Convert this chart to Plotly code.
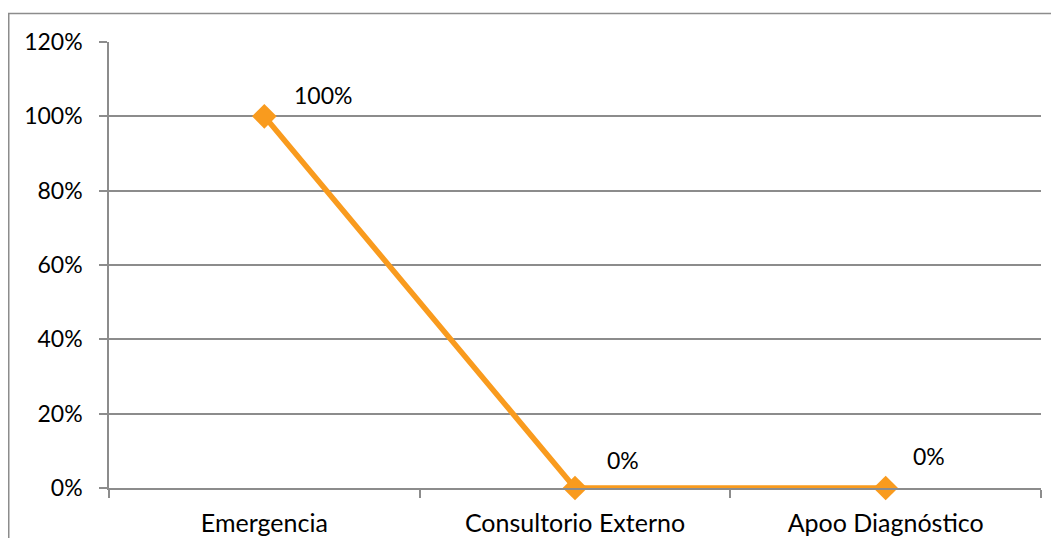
import plotly.graph_objects as go

categories = ["Emergencia", "Consultorio Externo", "Apoo Diagnóstico"]
values = [1.0, 0.0, 0.0]
labels = ["100%", "0%", "0%"]
ytick_vals = [0, 0.2, 0.4, 0.6, 0.8, 1.0, 1.2]
ytick_text = ["0%", "20%", "40%", "60%", "80%", "100%", "120%"]

# page is offset by the default 8px body margin
OFF = 8
W, H = 1059 - 2 * OFF, 546 - 2 * OFF
L, T = 109 - OFF, 42 - OFF
R = W - (1041 - OFF)
B = H - (488 - OFF)
pw, ph = W - L - R, H - T - B

FONT = "Lato, sans-serif"
FS = 25
FSN = 23
ORANGE = "#F99B1E"
GRID = "#8c8c8c"

fig = go.Figure()
fig.add_trace(go.Scatter(
    x=categories, y=values, mode="lines+markers",
    line=dict(color=ORANGE, width=5.5),
    marker=dict(symbol="diamond", size=19, color=ORANGE),
    showlegend=False, hoverinfo="skip", cliponaxis=False,
))

label_shift = [(59, 21), (48, 28), (43, 32)]
for c, v, t, (dx, dy) in zip(categories, values, labels, label_shift):
    fig.add_annotation(x=c, y=v, text=t, showarrow=False, xshift=dx, yshift=dy,
                       font=dict(family=FONT, size=FSN, color="#000"))

# outer chart border
fig.add_shape(type="rect", xref="paper", yref="paper",
              x0=(0.75 - L) / pw, x1=(W + 20 - L) / pw,
              y0=-(H + 20 - T - ph) / ph, y1=(H - 5.5 - B) / ph,
              line=dict(color=GRID, width=1.5), layer="below")

fig.update_layout(
    width=W, height=H,
    margin=dict(l=L, r=R, t=T, b=B, pad=0, autoexpand=False),
    paper_bgcolor="white", plot_bgcolor="white",
    font=dict(family=FONT, size=FS, color="#000"),
    xaxis=dict(type="category", range=[-0.5, 2.5], tickson="boundaries",
               ticks="outside", ticklen=8, tickcolor=GRID, tickwidth=1.5,
               showgrid=False, showline=True, linecolor=GRID, linewidth=1.5,
               ticklabelstandoff=12, automargin=False,
               tickfont=dict(family=FONT, size=FS), fixedrange=True),
    yaxis=dict(range=[0, 1.2], tickvals=ytick_vals, ticktext=ytick_text,
               ticks="outside", ticklen=8, tickcolor=GRID, tickwidth=1.5,
               showgrid=True, gridcolor=GRID, gridwidth=1.5,
               showline=True, linecolor=GRID, linewidth=1.5, zeroline=False,
               ticklabelstandoff=12, automargin=False,
               tickfont=dict(family=FONT, size=FSN)),
)

fig.write_html("out.html")
